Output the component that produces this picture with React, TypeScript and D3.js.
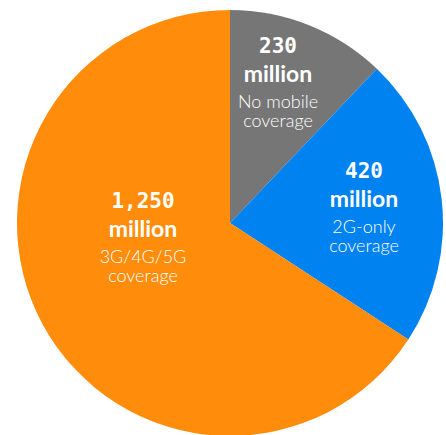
import React from "react";
import * as d3 from "d3";

const categories = ["No mobile coverage", "2G-only coverage", "3G/4G/5G coverage"];
const values = [230, 420, 1250];
const numberLabels = ["230", "420", "1,250"];
const unitLabels = ["million", "million", "million"];
const descLines = [
  ["No mobile", "coverage"],
  ["2G-only", "coverage"],
  ["3G/4G/5G", "coverage"],
];
const colors = ["#767676", "#0082F0", "#FF8C0A"];
// label block anchors (center x, first baseline y)
const labelAnchors: [number, number][] = [
  [278, 53],
  [364, 178],
  [143, 208],
];

const W = 446;
const H = 435;
const cx = 230;
const cy = 223;
const R = 213;

export default function App() {
  const pie = d3
    .pie<number>()
    .value((d) => d)
    .sort(null);
  const arcs = pie(values);
  const arc = d3.arc<d3.PieArcDatum<number>>().innerRadius(0).outerRadius(R);

  return (
    <svg
      width={W}
      height={H}
      viewBox={`0 0 ${W} ${H}`}
      style={{ position: "absolute", left: 0, top: 0, display: "block" }}
    >
      <rect width={W} height={H} fill="#ffffff" />
      <g transform={`translate(${cx},${cy})`}>
        {arcs.map((a, i) => (
          <path key={categories[i]} d={arc(a) || ""} fill={colors[i]} />
        ))}
      </g>
      {arcs.map((a, i) => {
        const [x, y] = labelAnchors[i];
        return (
          <g key={"l" + i} fill="#ffffff" textAnchor="middle">
            <text
              x={x}
              y={y}
              fontFamily="'DejaVu Sans Mono', monospace"
              fontWeight={700}
              fontSize={21}
            >
              {numberLabels[i]}
            </text>
            <text x={x} y={y + 29} fontFamily="Lato, sans-serif" fontWeight={700} fontSize={23}>
              {unitLabels[i]}
            </text>
            <text x={x} y={y + 55} fontFamily="Lato, sans-serif" fontWeight={300} fontSize={18}>
              {descLines[i][0]}
            </text>
            <text x={x} y={y + 74} fontFamily="Lato, sans-serif" fontWeight={300} fontSize={18}>
              {descLines[i][1]}
            </text>
          </g>
        );
      })}
    </svg>
  );
}
